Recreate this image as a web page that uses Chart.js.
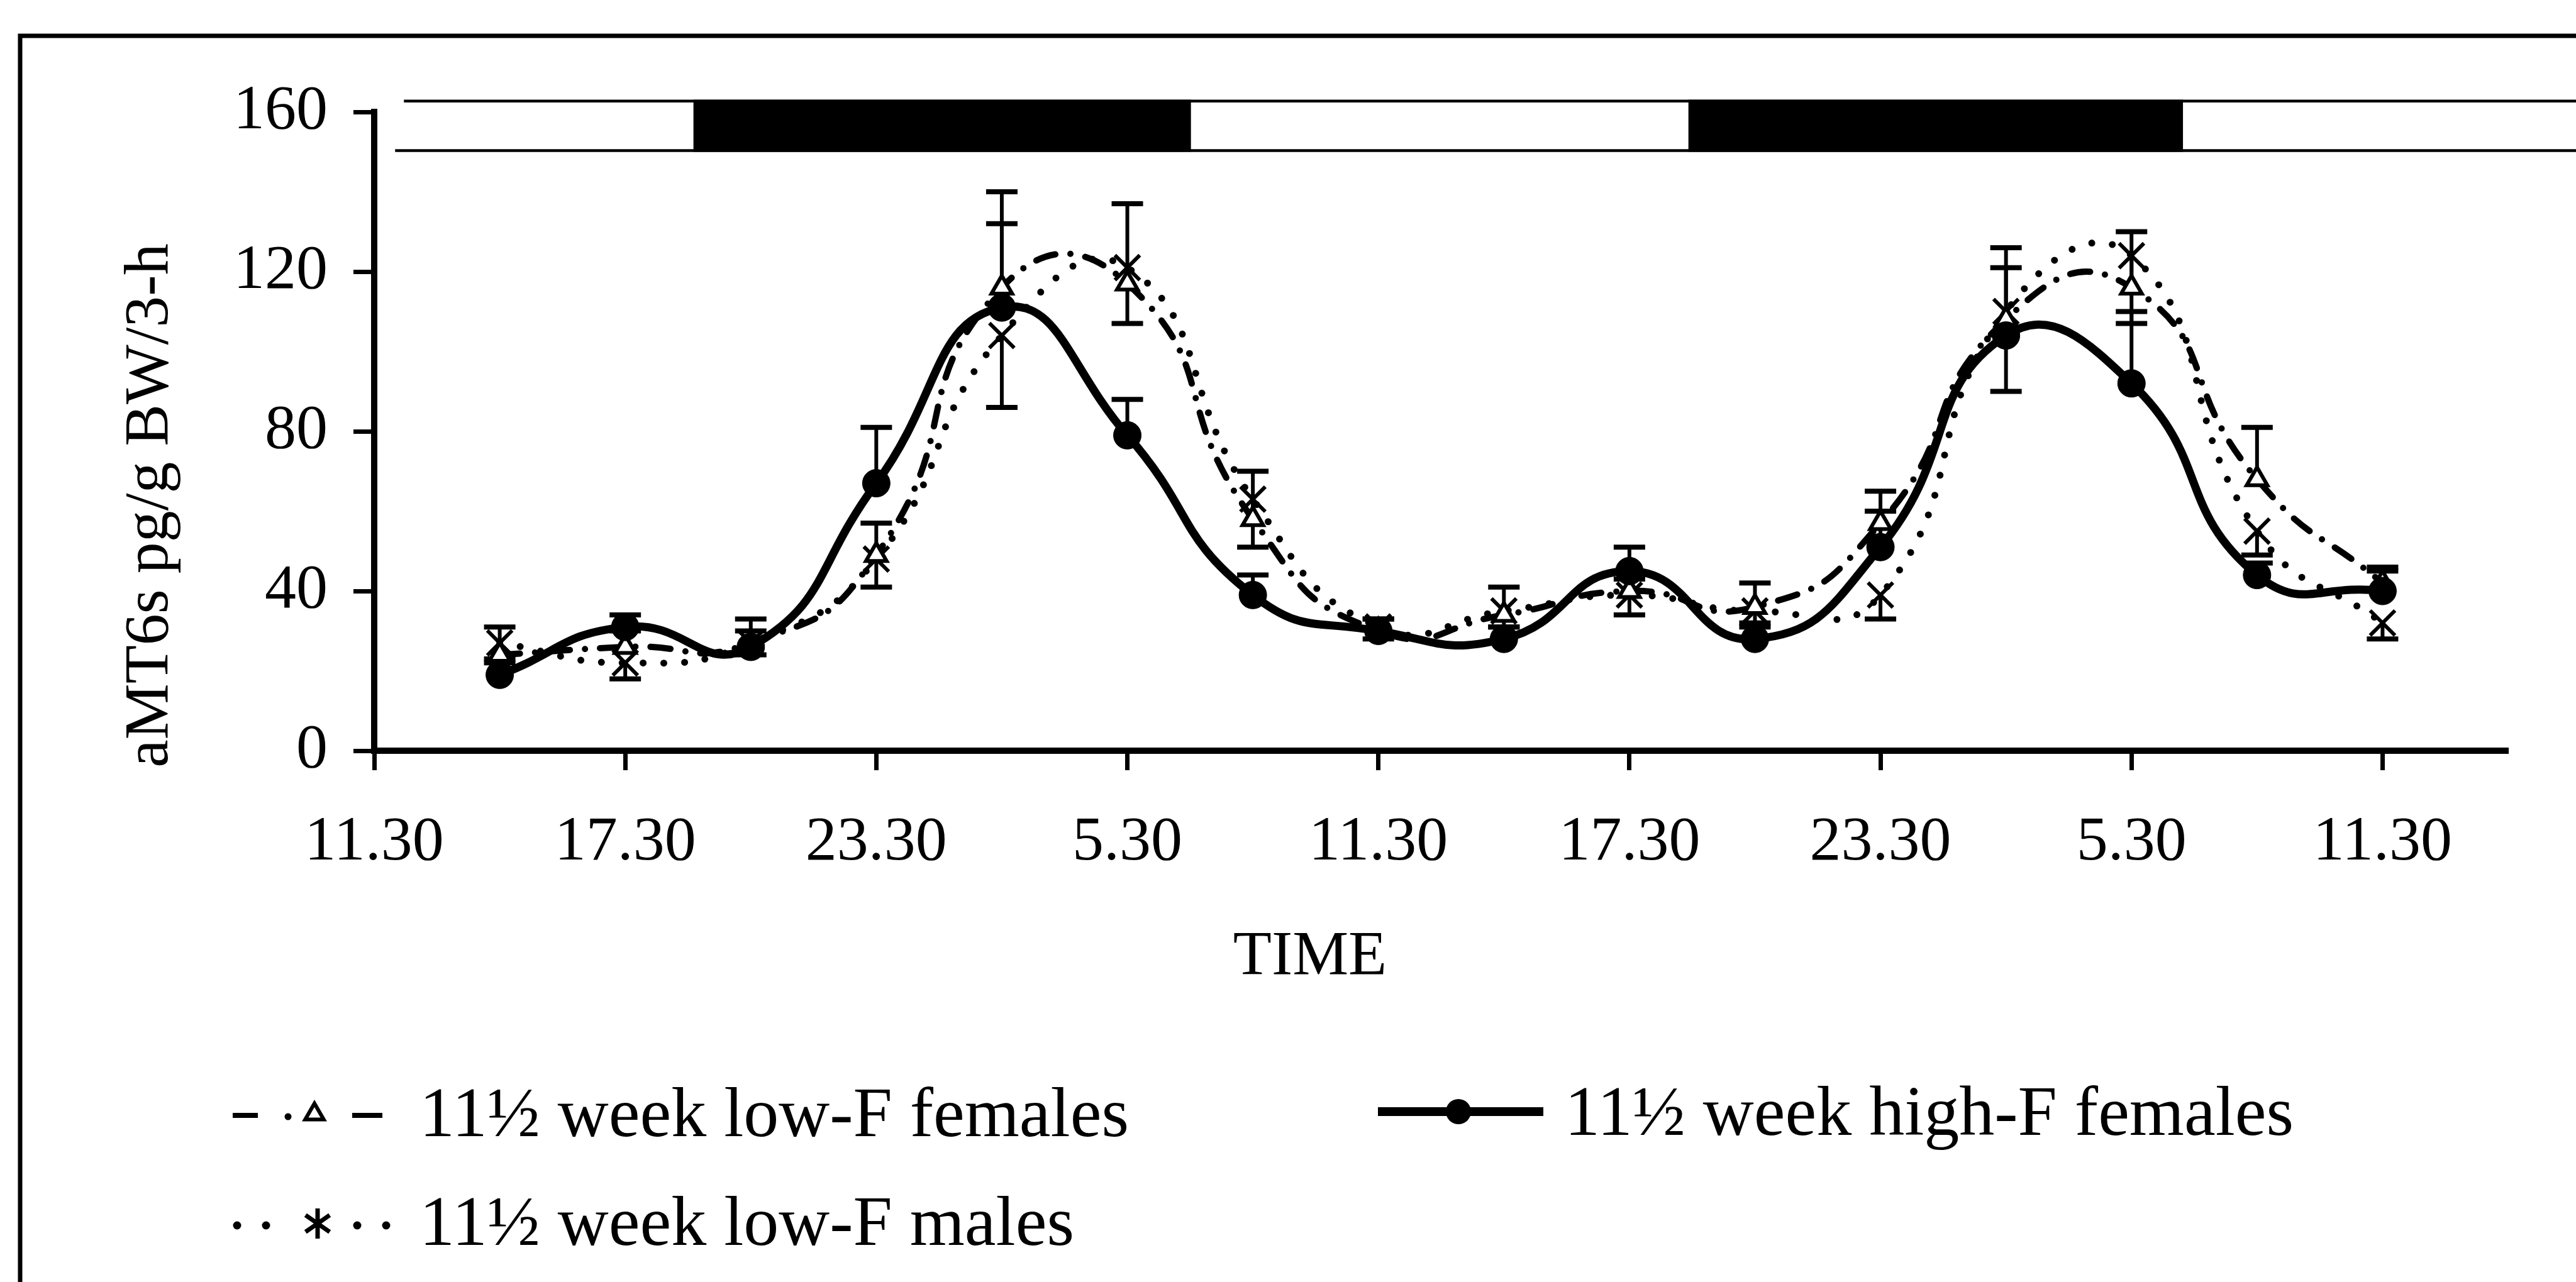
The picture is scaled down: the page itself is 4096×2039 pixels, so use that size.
<!DOCTYPE html>
<html><head><meta charset="utf-8">
<script src="https://cdn.jsdelivr.net/npm/chart.js@4.4.1/dist/chart.umd.min.js"></script>
<style>html,body{margin:0;padding:0;background:#fff;overflow:hidden}canvas{display:block}</style>
</head><body>
<canvas id="c" width="4096" height="2039" style="width:4096px;height:2039px"></canvas>
<script>
// ---------- data ----------
const xTickHours  = [0, 6, 12, 18, 24, 30, 36, 42, 48];
const xTickLabels = ['11.30', '17.30', '23.30', '5.30', '11.30', '17.30', '23.30', '5.30', '11.30'];
const sampleHours = [3, 6, 9, 12, 15, 18, 21, 24, 27, 30, 33, 36, 39, 42, 45, 48];

const lowFFemales    = [24, 26, 27, 49, 116, 117, 58, 30, 34, 40, 36, 57, 108, 116, 68, 42];
const lowFFemalesErr = [7, 4, 6, 8, 24, 20, 12, 3, 7, 3, 6, 8, 18, 14, 13, 3];
const highFFemales    = [19, 31, 26, 67, 111, 79, 39, 30, 28, 45, 28, 51, 104, 92, 44, 40];
const highFFemalesErr = [3, 3, 4, 14, 21, 9, 5, 3, 3, 6, 3, 9, 17, 18, 3, 6];
const lowFMales    = [27, 22, 27, 48, 104, 121, 63, 31, 35, 39, 35, 39, 110, 124, 55, 32];
const lowFMalesErr = [4, 4, 3, 7, 18, 14, 12, 3, 4, 5, 3, 6, 20, 17, 6, 4];

const seriesLabels = ['11\u00BD week low-F females', '11\u00BD week high-F females', '11\u00BD week low-F males'];
const darkPeriods = [[7.63, 19.52], [31.41, 43.23]];   // hours after 11.30
const lightStart = 0.5;
const yTitle = 'aMT6s pg/g BW/3-h';
const xTitle = 'TIME';

// ---------- styling ----------
const FONT = "'Liberation Serif', 'Times New Roman', Times, serif";
const pts = (ys) => sampleHours.map((h, i) => ({ x: h, y: ys[i] }));

const dsHigh = {
  label: seriesLabels[1], data: pts(highFFemales), errors: highFFemalesErr, errorDir: 1,
  borderColor: '#000', borderWidth: 13, tension: 0.5, fill: false, order: 0,
  pointStyle: 'circle', pointRadius: 22, pointBackgroundColor: '#000', pointBorderColor: '#000', pointBorderWidth: 1
};
const dsLowF = {
  label: seriesLabels[0], data: pts(lowFFemales), errors: lowFFemalesErr, errorDir: 1,
  borderColor: '#000', borderWidth: 10, borderDash: [32, 24, 0, 24], borderCapStyle: 'round',
  tension: 0.55, fill: false, order: 1,
  pointStyle: 'triangle', pointRadius: 19, pointBackgroundColor: '#fff', pointBorderColor: '#000', pointBorderWidth: 6
};
const dsMales = {
  label: seriesLabels[2], data: pts(lowFMales), errors: lowFMalesErr, errorDir: -1,
  borderColor: '#000', borderWidth: 11, borderDash: [0, 33], borderCapStyle: 'round',
  tension: 0.5, fill: false, order: 2,
  pointStyle: 'crossRot', pointRadius: 28, pointBackgroundColor: '#000', pointBorderColor: '#000', pointBorderWidth: 6
};

const decorations = {
  id: 'decorations',
  beforeDraw(chart) {
    const ctx = chart.ctx;
    ctx.save(); ctx.fillStyle = '#fff'; ctx.fillRect(0, 0, chart.width, chart.height); ctx.restore();
  },
  beforeDatasetsDraw(chart) {
    const ctx = chart.ctx, xS = chart.scales.x, yS = chart.scales.y;
    ctx.save();
    ctx.strokeStyle = '#000'; ctx.lineCap = 'butt';
    const cap = 50;
    chart.data.datasets.forEach((ds) => {
      ds.data.forEach((p, i) => {
        const e = ds.errors[i];
        if (!e) return;
        const px = xS.getPixelForValue(p.x);
        const y0 = yS.getPixelForValue(p.y);
        const y1 = yS.getPixelForValue(p.y + ds.errorDir * e);
        ctx.lineWidth = 6;
        ctx.beginPath(); ctx.moveTo(px, y0); ctx.lineTo(px, y1); ctx.stroke();
        ctx.lineWidth = 8;
        ctx.beginPath(); ctx.moveTo(px - cap / 2, y1); ctx.lineTo(px + cap / 2, y1); ctx.stroke();
      });
    });
    ctx.restore();
  },
  afterDraw(chart) {
    const ctx = chart.ctx, xS = chart.scales.x, yS = chart.scales.y;
    ctx.save();
    // outer frame (left and top edges)
    ctx.strokeStyle = '#000'; ctx.lineWidth = 7;
    ctx.beginPath(); ctx.moveTo(32, chart.height + 5); ctx.lineTo(32, 57); ctx.lineTo(chart.width + 5, 57); ctx.stroke();

    // light / dark bar
    const yTop = yS.getPixelForValue(163.05), yBot = yS.getPixelForValue(150.0);
    const xStart = xS.getPixelForValue(lightStart);
    ctx.lineWidth = 4.5;
    ctx.beginPath();
    ctx.moveTo(xStart + 14, yTop + 2); ctx.lineTo(chart.width + 5, yTop + 2);
    ctx.moveTo(xStart, yBot - 2); ctx.lineTo(chart.width + 5, yBot - 2);
    ctx.stroke();
    ctx.fillStyle = '#000';
    darkPeriods.forEach(([a, b]) => {
      const xa = xS.getPixelForValue(a), xb = xS.getPixelForValue(b);
      ctx.fillRect(xa, yTop, xb - xa, yBot - yTop);
    });

    // axis titles
    ctx.fillStyle = '#000';
    ctx.font = `100px ${FONT}`;
    ctx.save();
    ctx.translate(266, 804); ctx.rotate(-Math.PI / 2);
    ctx.textAlign = 'center'; ctx.textBaseline = 'alphabetic';
    ctx.fillText(yTitle, 0, 0);
    ctx.restore();
    ctx.font = `100px ${FONT}`;
    ctx.textAlign = 'center'; ctx.textBaseline = 'alphabetic';
    ctx.fillText(xTitle, 2083, 1549);

    // legend
    ctx.font = `112px ${FONT}`;
    ctx.textAlign = 'left';
    ctx.strokeStyle = '#000'; ctx.fillStyle = '#000';
    // low-F females: dash . triangle dash
    let y = 1774;
    ctx.lineCap = 'butt'; ctx.lineWidth = 8;
    ctx.beginPath(); ctx.moveTo(370, y); ctx.lineTo(410, y); ctx.moveTo(560, y); ctx.lineTo(608, y); ctx.stroke();
    ctx.beginPath(); ctx.arc(458, y + 2, 5.5, 0, Math.PI * 2); ctx.fill();
    drawTriangle(ctx, 500, y - 2, 17);
    ctx.fillText(dsLowF.label, 667, 1807);
    // high-F females: solid line + circle
    y = 1768;
    ctx.lineWidth = 14; ctx.lineCap = 'butt';
    ctx.beginPath(); ctx.moveTo(2191, y); ctx.lineTo(2454, y); ctx.stroke();
    ctx.beginPath(); ctx.arc(2319, y, 20, 0, Math.PI * 2); ctx.fill();
    ctx.fillText(dsHigh.label, 2488, 1805);
    // low-F males: dots + star
    y = 1946;
    [377, 423, 568, 614].forEach(x => { ctx.beginPath(); ctx.arc(x, y + 3, 6.5, 0, Math.PI * 2); ctx.fill(); });
    drawStar(ctx, 505, y, 24);
    ctx.fillText(dsMales.label, 667, 1980);
    ctx.restore();
  }
};

function drawTriangle(ctx, x, y, r) {
  ctx.save();
  ctx.lineWidth = 6; ctx.fillStyle = '#fff'; ctx.strokeStyle = '#000';
  ctx.beginPath();
  ctx.moveTo(x, y - r);
  ctx.lineTo(x + 0.866 * r, y + 0.5 * r);
  ctx.lineTo(x - 0.866 * r, y + 0.5 * r);
  ctx.closePath(); ctx.fill(); ctx.stroke();
  ctx.restore();
}
function drawStar(ctx, x, y, r) {
  ctx.save();
  ctx.lineWidth = 7; ctx.strokeStyle = '#000'; ctx.lineCap = 'butt';
  const d = r * 0.8;
  ctx.beginPath();
  ctx.moveTo(x - d, y - d * 0.7); ctx.lineTo(x + d, y + d * 0.7);
  ctx.moveTo(x + d, y - d * 0.7); ctx.lineTo(x - d, y + d * 0.7);
  ctx.moveTo(x, y - r); ctx.lineTo(x, y + r);
  ctx.stroke();
  ctx.restore();
}

const tickFont = { family: FONT, size: 100 };

new Chart(document.getElementById('c'), {
  type: 'line',
  data: { datasets: [dsHigh, dsLowF, dsMales] },
  options: {
    responsive: false, animation: false, devicePixelRatio: 1,
    layout: { padding: { left: 0, top: 178, right: 108, bottom: 545 } },
    plugins: { legend: { display: false }, tooltip: { enabled: false } },
    scales: {
      x: {
        type: 'linear', min: 0, max: 51,
        afterBuildTicks: (s) => { s.ticks = xTickHours.map(v => ({ value: v })); },
        afterFit: (s) => { s.height = 300; },
        border: { display: true, color: '#000', width: 10 },
        grid: { display: true, drawOnChartArea: false, drawTicks: true, tickLength: 31, tickWidth: 7, tickColor: '#000' },
        ticks: {
          font: tickFont, color: '#000', padding: 56, maxRotation: 0, autoSkip: false,
          callback: (v) => { const i = xTickHours.indexOf(v); return i >= 0 ? xTickLabels[i] : ''; }
        }
      },
      y: {
        min: 0, max: 160,
        afterFit: (s) => { s.width = 595; },
        border: { display: true, color: '#000', width: 10 },
        grid: { display: true, drawOnChartArea: false, drawTicks: true, tickLength: 33, tickWidth: 7, tickColor: '#000' },
        ticks: { stepSize: 40, font: tickFont, color: '#000', padding: 41 }
      }
    }
  },
  plugins: [decorations]
});
</script>
</body></html>
